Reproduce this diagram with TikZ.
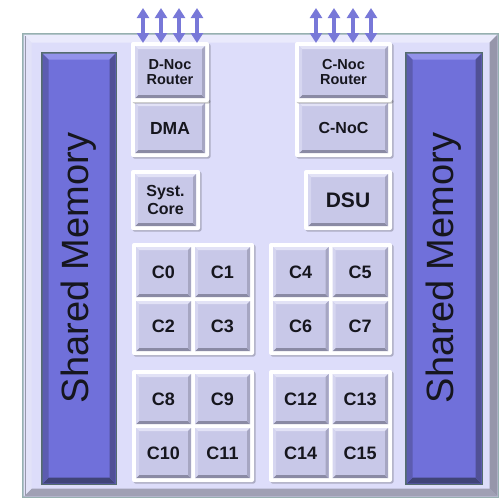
\documentclass[tikz,border=0pt]{standalone}
\usepackage{fontspec}
\setmainfont{Liberation Sans}
\usetikzlibrary{arrows.meta}

% palette
\definecolor{frmFill}{RGB}{221,221,250}
\definecolor{frmTop}{RGB}{234,234,252}
\definecolor{frmLeft}{RGB}{226,226,248}
\definecolor{frmRight}{RGB}{150,150,170}
\definecolor{frmBot}{RGB}{160,160,180}
\definecolor{frmEdge}{RGB}{150,176,176}
\definecolor{btnFill}{RGB}{200,200,232}
\definecolor{btnTop}{RGB}{226,226,246}
\definecolor{btnLeft}{RGB}{214,214,240}
\definecolor{btnRight}{RGB}{166,166,194}
\definecolor{btnBot}{RGB}{138,138,164}
\definecolor{memFill}{RGB}{112,112,218}
\definecolor{memTop}{RGB}{146,146,234}
\definecolor{memLeft}{RGB}{92,92,176}
\definecolor{memRight}{RGB}{80,80,150}
\definecolor{memBot}{RGB}{64,68,120}
\definecolor{memEdge}{RGB}{84,108,110}
\definecolor{arrowBlue}{RGB}{120,120,216}
\definecolor{inkDark}{RGB}{22,22,30}

% bevelled rectangle: palette prefix, x1, y1, x2, y2, bevel width
\newcommand\bevelrect[6]{%
  \fill[#1Fill] (#2,#3) rectangle (#4,#5);
  \fill[#1Top] (#2,#3) -- (#4,#3) -- (#4-#6,#3+#6) -- (#2+#6,#3+#6) -- cycle;
  \fill[#1Bot] (#2,#5) -- (#4,#5) -- (#4-#6,#5-#6) -- (#2+#6,#5-#6) -- cycle;
  \fill[#1Left] (#2,#3) -- (#2+#6,#3+#6) -- (#2+#6,#5-#6) -- (#2,#5) -- cycle;
  \fill[#1Right] (#4,#3) -- (#4-#6,#3+#6) -- (#4-#6,#5-#6) -- (#4,#5) -- cycle;
}
% white mounting frame with a soft shadow
\newcommand\wframe[4]{%
  \fill[black,opacity=0.22,rounded corners=2pt] (#1+1.5,#2+1.5) rectangle (#3+1.5,#4+1.5);
  \fill[white,rounded corners=2pt] (#1,#2) rectangle (#3,#4);
}
% labelled button: name, x1, y1, x2, y2, label style, text
\newcommand\btn[7]{%
  \bevelrect{btn}{#2}{#3}{#4}{#5}{3}
  \node[#6] (#1) at ({(#2+#4)/2},{(#3+#5)/2}) {#7};
}

\tikzset{
  lblbase/.style={text=inkDark, align=center, inner sep=0pt, font=\bfseries},
  lblsmall/.style={lblbase, font=\bfseries\fontsize{14.5}{16}\selectfont},
  lblmid/.style={lblbase, font=\bfseries\fontsize{16}{19}\selectfont},
  lbldma/.style={lblbase, font=\bfseries\fontsize{17.5}{20}\selectfont},
  lbldsu/.style={lblbase, font=\bfseries\fontsize{21}{24}\selectfont},
  lblcore/.style={lblbase, font=\bfseries\fontsize{18}{20}\selectfont},
  memtext/.style={text=inkDark, inner sep=0pt, rotate=90, font=\fontsize{38}{40}\selectfont},
  link/.style={arrowBlue, line width=4.5pt,
    {Triangle[width=12pt,length=10pt]}-{Triangle[width=12pt,length=10pt]}},
}

\begin{document}
\begin{tikzpicture}[x=1pt,y=-1pt]
\useasboundingbox (0,0) rectangle (504,499);
\fill[white] (0,0) rectangle (504,499);

% chip outline
\fill[frmEdge] (22,33) rectangle (499,498);
\bevelrect{frm}{23.5}{34.5}{497.5}{496.5}{8}
\draw[frmRight, line width=1pt] (25.5,36) -- (25.5,495);

% shared memory banks
\fill[memEdge] (41,52) rectangle (117,485);
\bevelrect{mem}{42.5}{53.5}{115.5}{483.5}{6}
\node[memtext] (lmem) at (79,268) {Shared Memory};
\fill[memEdge] (405,52) rectangle (483,485);
\bevelrect{mem}{406.5}{53.5}{481.5}{483.5}{6}
\node[memtext] (rmem) at (444,268) {Shared Memory};

% data-side network
\wframe{131}{98}{209}{157}
\btn{dma}{135}{103}{205}{153}{lbldma}{DMA}
\wframe{131}{42}{209}{102}
\btn{drouter}{135}{46}{205}{98}{lblsmall}{D-Noc\\[-1pt]Router}

% control-side network
\wframe{295}{98}{392}{157}
\btn{cnoc}{299}{103}{388}{153}{lblmid}{C-NoC}
\wframe{295}{42}{392}{102}
\btn{crouter}{299}{46}{388}{98}{lblsmall}{C-Noc\\[-1pt]Router}

% system core and debug unit
\wframe{131}{170}{200}{230}
\btn{syscore}{135}{174}{196}{226}{lblmid}{Syst.\\[-1pt]Core}
\wframe{304}{170}{392}{230}
\btn{dsu}{308}{174}{388}{226}{lbldsu}{DSU}

% compute clusters
\wframe{132}{243}{254}{355}
\btn{c0}{136}{247}{191}{297}{lblcore}{C0}
\btn{c1}{195}{247}{250}{297}{lblcore}{C1}
\btn{c2}{136}{301}{191}{351}{lblcore}{C2}
\btn{c3}{195}{301}{250}{351}{lblcore}{C3}

\wframe{269}{243}{392}{355}
\btn{c4}{273}{247}{328.5}{297}{lblcore}{C4}
\btn{c5}{332.5}{247}{388}{297}{lblcore}{C5}
\btn{c6}{273}{301}{328.5}{351}{lblcore}{C6}
\btn{c7}{332.5}{301}{388}{351}{lblcore}{C7}

\wframe{132}{370}{254}{482}
\btn{c8}{136}{374}{191}{424}{lblcore}{C8}
\btn{c9}{195}{374}{250}{424}{lblcore}{C9}
\btn{c10}{136}{428}{191}{478}{lblcore}{C10}
\btn{c11}{195}{428}{250}{478}{lblcore}{C11}

\wframe{269}{370}{392}{482}
\btn{c12}{273}{374}{328.5}{424}{lblcore}{C12}
\btn{c13}{332.5}{374}{388}{424}{lblcore}{C13}
\btn{c14}{273}{428}{328.5}{478}{lblcore}{C14}
\btn{c15}{332.5}{428}{388}{478}{lblcore}{C15}

% off-chip links of the routers
\foreach \i/\x in {1/143,2/161,3/179,4/197}{
  \coordinate (dl\i) at (\x,8);
  \coordinate (dr\i) at (\x,43);
  \draw[link] (dr\i) -- (dl\i);
}
\foreach \i/\x in {1/316,2/334,3/353,4/371}{
  \coordinate (cl\i) at (\x,8);
  \coordinate (cr\i) at (\x,43);
  \draw[link] (cr\i) -- (cl\i);
}
\end{tikzpicture}
\end{document}
